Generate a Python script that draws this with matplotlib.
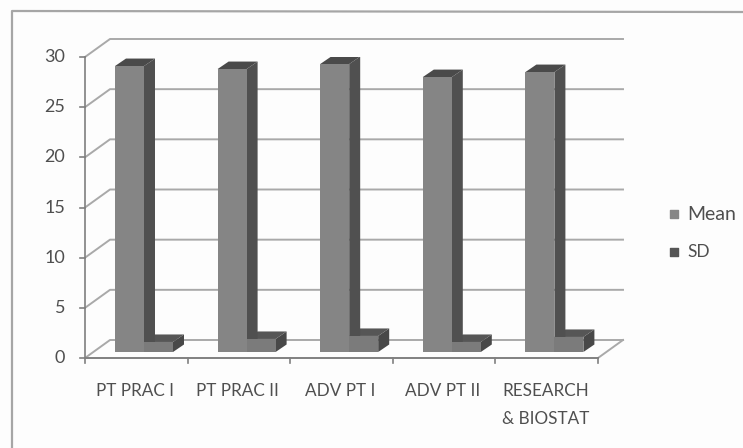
# Fake 3D clustered column chart, Excel style, scanned look
import matplotlib

matplotlib.use("Agg")
import matplotlib.pyplot as plt
from matplotlib.patches import Polygon

categories = ["PT PRAC I", "PT PRAC II", "ADV PT I", "ADV PT II", "RESEARCH\n& BIOSTAT"]
mean_values = [28.5, 28.2, 28.7, 27.4, 27.9]
sd_values = [1.0, 1.3, 1.6, 1.0, 1.5]
y_ticks = [0, 5, 10, 15, 20, 25, 30]

W, H = 743, 448
BG = "#fdfdfd"
LINE = "#a9a9a9"
TEXT = "#4f4f4f"

plt.rcParams["font.family"] = ["Lato", "DejaVu Sans"]
fig = plt.figure(figsize=(W / 100, H / 100), dpi=100, facecolor=BG)

# front plane of the chart box, in pixels
x0, x1 = 85, 598
y_zero, y_top = 358, 57
ax = fig.add_axes([x0 / W, 1 - y_zero / H, (x1 - x0) / W, (y_zero - y_top) / H])
ax.set_xlim(0, len(categories))
ax.set_ylim(0, 30)
ax.axis("off")

# depth of the box and of the bars, in data units
px_x = len(categories) / (x1 - x0)
px_y = 30 / (y_zero - y_top)
box_dx, box_dy = 25 * px_x, 18 * px_y
bar_dx, bar_dy = 11 * px_x, 7.5 * px_y
bar_w = 29 * px_x
bar_x = 30 * px_x
bar_z = 6 * px_y

# walls
for v in y_ticks:
    ax.plot([0, box_dx, len(categories) + box_dx], [v, v + box_dy, v + box_dy], color=LINE, lw=1.4, clip_on=False, zorder=1)
ax.plot([len(categories), len(categories) + box_dx], [0, box_dy], color=LINE, lw=1.4, clip_on=False, zorder=1)

# axes and ticks
ax.plot([0, 0], [0, 30], color="#808080", lw=1.2, clip_on=False, zorder=2)
ax.plot([0, len(categories)], [0, 0], color="#808080", lw=1.4, clip_on=False, zorder=2)
for v in y_ticks:
    ax.plot([-5 * px_x, 0], [v, v], color="#808080", lw=1.2, clip_on=False, zorder=2)
    ax.text(-20 * px_x, v, str(v), ha="right", va="center", fontsize=13, color=TEXT)
for i in range(len(categories) + 1):
    ax.plot([i, i], [0, -5 * px_y], color="#808080", lw=1.2, clip_on=False, zorder=2)


def draw_bar(x, v, front, side, top):
    ax.bar(x, v, bar_w, bottom=bar_z, align="edge", color=front, zorder=4)
    ax.add_patch(Polygon([(x + bar_w, bar_z), (x + bar_w + bar_dx, bar_z + bar_dy),
                          (x + bar_w + bar_dx, bar_z + v + bar_dy), (x + bar_w, bar_z + v)],
                         facecolor=side, edgecolor="none", zorder=3))
    ax.add_patch(Polygon([(x, bar_z + v), (x + bar_dx, bar_z + v + bar_dy),
                          (x + bar_w + bar_dx, bar_z + v + bar_dy), (x + bar_w, bar_z + v)],
                         facecolor=top, edgecolor="none", zorder=3))


for i, (m, s) in enumerate(zip(mean_values, sd_values)):
    draw_bar(i + bar_x + bar_w, s, "#7b7b7b", "#484848", "#565656")
    draw_bar(i + bar_x, m, "#858585", "#505050", "#4a4a4a")
    ax.text(i + 0.5 - 1 * px_x, -25 * px_y, categories[i], ha="center", va="top", fontsize=12.3,
            color=TEXT, linespacing=1.95)

# legend, drawn by hand to sit at the scan's position
leg = fig.add_axes([0, 0, 1, 1], facecolor="none")
leg.set_xlim(0, W)
leg.set_ylim(H, 0)
leg.axis("off")
leg.scatter([674], [214], s=38, marker="s", color="#858585")
leg.scatter([674], [252], s=38, marker="s", color="#555555")
leg.text(687, 214, "Mean", va="center", fontsize=14, color=TEXT)
leg.text(687, 252, "SD", va="center", fontsize=12.5, color=TEXT)

# chart frame, open on the right
leg.plot([743, 12, 12], [12, 11, 448], color="#a6a6a6", lw=1.6)

fig.savefig("out.png", dpi=100, facecolor=BG)
